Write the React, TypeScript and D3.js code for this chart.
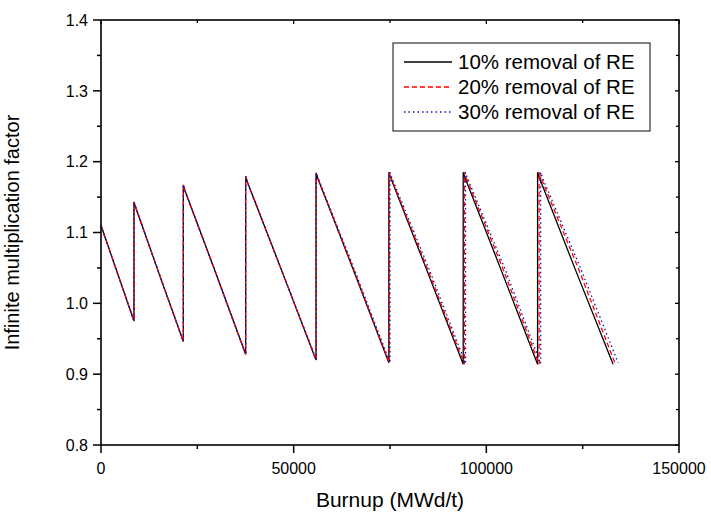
import React from 'react';
import * as d3 from 'd3';

// burnup (MWd/t), infinite multiplication factor
const series10 = [
  [0, 1.110], [8560, 0.975],
  [8560, 1.143], [8900, 1.137], [15000, 1.043], [21370, 0.946],
  [21370, 1.167], [21800, 1.159], [29500, 1.047], [37540, 0.928],
  [37540, 1.179], [38000, 1.171], [46700, 1.049], [55800, 0.920],
  [55800, 1.184], [56300, 1.176], [65300, 1.050], [74700, 0.916],
  [74700, 1.185], [75200, 1.177], [84400, 1.049], [94000, 0.914],
  [94000, 1.185], [94500, 1.177], [103700, 1.049], [113300, 0.914],
  [113300, 1.185], [113800, 1.177], [123000, 1.049], [132900, 0.914],
];
const series20 = [
  [0, 1.110], [8560, 0.975],
  [8560, 1.143], [8900, 1.137], [15000, 1.043], [21370, 0.946],
  [21370, 1.167], [21800, 1.159], [29500, 1.047], [37540, 0.928],
  [37540, 1.179], [38000, 1.171], [46700, 1.049], [55800, 0.920],
  [55800, 1.184], [56300, 1.176], [65400, 1.050], [74800, 0.916],
  [74800, 1.185], [75300, 1.177], [84700, 1.049], [94300, 0.914],
  [94300, 1.185], [94800, 1.177], [104300, 1.049], [113700, 0.914],
  [113700, 1.185], [114200, 1.177], [123900, 1.049], [133500, 0.914],
];
const series30 = [
  [0, 1.110], [8560, 0.975],
  [8560, 1.143], [8900, 1.137], [15000, 1.043], [21370, 0.946],
  [21370, 1.167], [21800, 1.159], [29500, 1.047], [37540, 0.928],
  [37540, 1.179], [38000, 1.171], [46700, 1.049], [55900, 0.920],
  [55900, 1.184], [56400, 1.176], [65600, 1.050], [75000, 0.916],
  [75000, 1.185], [75500, 1.177], [85100, 1.049], [94600, 0.915],
  [94600, 1.185], [95100, 1.177], [104800, 1.049], [114100, 0.915],
  [114100, 1.185], [114600, 1.177], [124500, 1.049], [134200, 0.916],
];
const legendLabels = ['10% removal of RE', '20% removal of RE', '30% removal of RE'];
const xTicks = [0, 50000, 100000, 150000];
const xMinor = [25000, 75000, 125000];
const yTicks = [0.8, 0.9, 1.0, 1.1, 1.2, 1.3, 1.4];
const yMinor = [0.85, 0.95, 1.05, 1.15, 1.25, 1.35];

const font = '"Liberation Sans", Arial, sans-serif';

export default function App() {
  const W = 711, H = 515;
  const left = 101, right = 679, top = 20, bottom = 445;
  const x = d3.scaleLinear().domain([0, 150000]).range([left, right]);
  const y = d3.scaleLinear().domain([0.8, 1.4]).range([bottom, top]);
  const line = d3.line<number[]>().x(d => x(d[0])).y(d => y(d[1]));

  const styles = [
    { data: series10, stroke: '#000000', dash: undefined },
    { data: series20, stroke: '#ff0000', dash: '5,3' },
    { data: series30, stroke: '#1010b0', dash: '1.5,3' },
  ];

  return (
    <div style={{ position: 'absolute', left: 0, top: 0 }}>
      <svg width={W} height={H} style={{ display: 'block', background: '#fff' }} fontFamily={font}>
        {styles.map((s, i) => (
          <path key={i} d={line(s.data) || ''} fill="none" stroke={s.stroke}
            strokeWidth={1.3} strokeDasharray={s.dash} />
        ))}

        {/* frame */}
        <rect x={left} y={top} width={right - left} height={bottom - top}
          fill="none" stroke="#000" strokeWidth={1.6} />

        {/* y ticks */}
        {yTicks.map(t => (
          <g key={'y' + t}>
            <line x1={left - 8} x2={left} y1={y(t)} y2={y(t)} stroke="#000" strokeWidth={1.5} />
            <line x1={right - 4} x2={right} y1={y(t)} y2={y(t)} stroke="#000" strokeWidth={1.3} />
            <text x={left - 13} y={y(t)} dy="0.36em" textAnchor="end" fontSize={16}>{t.toFixed(1)}</text>
          </g>
        ))}
        {yMinor.map(t => (
          <g key={'ym' + t}>
            <line x1={left - 4} x2={left} y1={y(t)} y2={y(t)} stroke="#000" strokeWidth={1.5} />
            <line x1={right - 3} x2={right} y1={y(t)} y2={y(t)} stroke="#000" strokeWidth={1.3} />
          </g>
        ))}

        {/* x ticks */}
        {xTicks.map(t => (
          <g key={'x' + t}>
            <line x1={x(t)} x2={x(t)} y1={bottom} y2={bottom + 8} stroke="#000" strokeWidth={1.5} />
            <line x1={x(t)} x2={x(t)} y1={top} y2={top + 4} stroke="#000" strokeWidth={1.3} />
            <text x={x(t)} y={bottom + 29} textAnchor="middle" fontSize={16}>{t}</text>
          </g>
        ))}
        {xMinor.map(t => (
          <g key={'xm' + t}>
            <line x1={x(t)} x2={x(t)} y1={bottom} y2={bottom + 4} stroke="#000" strokeWidth={1.5} />
            <line x1={x(t)} x2={x(t)} y1={top} y2={top + 3} stroke="#000" strokeWidth={1.3} />
          </g>
        ))}

        {/* axis titles */}
        <text x={(left + right) / 2} y={507} textAnchor="middle" fontSize={21}>Burnup (MWd/t)</text>
        <text transform={`translate(19,${(top + bottom) / 2}) rotate(-90)`} textAnchor="middle" fontSize={20}>
          Infinite multiplication factor
        </text>

        {/* legend */}
        <rect x={393} y={43} width={257} height={88} fill="#fff" stroke="#333" strokeWidth={1.2} />
        {styles.map((s, i) => (
          <g key={'lg' + i}>
            <line x1={404} x2={452} y1={62 + i * 25} y2={62 + i * 25} stroke={s.stroke}
              strokeWidth={1.3} strokeDasharray={s.dash} />
            <text x={458} y={62 + i * 25} dy="0.36em" fontSize={20.5}>{legendLabels[i]}</text>
          </g>
        ))}
      </svg>
    </div>
  );
}
